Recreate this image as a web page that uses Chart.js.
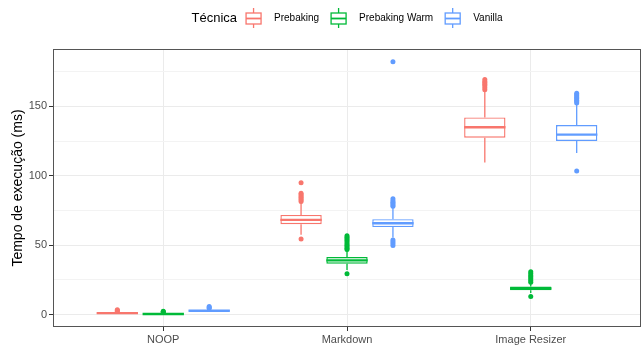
<!DOCTYPE html>
<html>
<head>
<meta charset="utf-8">
<script src="https://cdn.jsdelivr.net/npm/chart.js@4.4.1/dist/chart.umd.min.js"></script>
<style>
  html, body { margin: 0; padding: 0; background: #fff; }
  #caixa { width: 644px; height: 346px; }
</style>
</head>
<body>
<div id="caixa"><canvas id="grafico"></canvas></div>
<script>
const categorias = ['NOOP', 'Markdown', 'Image Resizer'];
const tecnicas = ['Prebaking', 'Prebaking Warm', 'Vanilla'];
const cores = ['#F8766D', '#00BA38', '#619CFF'];

// [limite inferior, Q1, mediana, Q3, limite superior] por categoria
const caixasPrebaking = [[0.5, 0.8, 1.0, 1.2, 1.7], [57.5, 65.1, 68.2, 71.8, 80.5], [109.5, 127.5, 135.0, 142.1, 161.0]];
const caixasPrebakingWarm = [[0.1, 0.3, 0.4, 0.5, 0.8], [32.0, 36.6, 39.0, 41.4, 46.0], [15.5, 17.4, 18.8, 20.1, 22.5]];
const caixasVanilla = [[2.0, 2.4, 2.7, 3.0, 3.8], [55.5, 63.0, 65.8, 68.7, 77.5], [116.5, 125.1, 129.7, 136.6, 152.0]];

// pontos fora dos limites
const outliersPrebaking = [[2.4, 2.9, 3.4], [54.5, 81.5, 82.5, 83.5, 84.5, 85.5, 86.5, 87.5, 95.0], [162.0, 163.5, 165.0, 166.0, 167.0, 168.0, 169.5]];
const outliersPrebakingWarm = [[1.4, 1.9, 2.3], [29.4, 46.8, 47.8, 48.8, 50.0, 51.0, 52.2, 53.5, 54.6, 55.7, 56.7], [12.9, 23.2, 24.5, 25.8, 27.0, 28.2, 29.5, 30.8]];
const outliersVanilla = [[4.5, 5.0, 5.8], [49.8, 51.2, 52.5, 53.8, 78.0, 79.0, 80.0, 81.0, 82.0, 83.5, 182.3], [103.4, 152.5, 153.5, 154.5, 155.5, 156.5, 157.5, 158.5, 159.5]];

const ticksY = [0, 50, 100, 150];
const ticksYMenores = [25, 75, 125, 175];

const todasCaixas = [caixasPrebaking, caixasPrebakingWarm, caixasVanilla];
const todosOutliers = [outliersPrebaking, outliersPrebakingWarm, outliersVanilla];

// limites do eixo y com expansao de 5% (como no ggplot)
var todosValores = [];
for (var t = 0; t < 3; t++) {
    todasCaixas[t].forEach(c => todosValores.push(...c));
    todosOutliers[t].forEach(o => todosValores.push(...o));
}
var minDados = Math.min(...todosValores);
var maxDados = Math.max(...todosValores);
var faixa = maxDados - minDados;

const fonte = '"Liberation Sans", Arial, sans-serif';

const datasets = tecnicas.map((nome, t) => ({
    label: nome,
    data: categorias.map((c, i) => ({ x: i + 1, y: [todasCaixas[t][i][1], todasCaixas[t][i][3]] })),
    caixas: todasCaixas[t],
    outliers: todosOutliers[t],
    backgroundColor: '#FFFFFF',
    borderColor: cores[t],
    borderWidth: 1.4,
    borderSkipped: false,
    categoryPercentage: 0.75,
    barPercentage: 0.9
}));

// bigodes, mediana e outliers
const pluginCaixas = {
    id: 'caixas',
    afterDatasetsDraw(chart) {
        const ctx = chart.ctx;
        const y = chart.scales.y;
        chart.data.datasets.forEach((ds, d) => {
            const meta = chart.getDatasetMeta(d);
            meta.data.forEach((barra, i) => {
                const [minimo, q1, mediana, q3, maximo] = ds.caixas[i];
                const x = barra.x;
                const meia = barra.width / 2;
                ctx.save();
                ctx.strokeStyle = ds.borderColor;
                ctx.lineWidth = 1.3;
                ctx.beginPath();
                ctx.moveTo(x, y.getPixelForValue(q3));
                ctx.lineTo(x, y.getPixelForValue(maximo));
                ctx.moveTo(x, y.getPixelForValue(q1));
                ctx.lineTo(x, y.getPixelForValue(minimo));
                ctx.stroke();
                ctx.lineWidth = 2.4;
                ctx.beginPath();
                ctx.moveTo(x - meia, y.getPixelForValue(mediana));
                ctx.lineTo(x + meia, y.getPixelForValue(mediana));
                ctx.stroke();
                ctx.fillStyle = ds.borderColor;
                ds.outliers[i].forEach(v => {
                    ctx.beginPath();
                    ctx.arc(x, y.getPixelForValue(v), 2.5, 0, Math.PI * 2);
                    ctx.fill();
                });
                ctx.restore();
            });
        });
    }
};

// borda do painel
const pluginBorda = {
    id: 'borda',
    afterDraw(chart) {
        const a = chart.chartArea;
        const ctx = chart.ctx;
        ctx.save();
        ctx.strokeStyle = '#555555';
        ctx.lineWidth = 1;
        ctx.strokeRect(a.left + 0.5, a.top + 0.5, a.right - a.left - 1, a.bottom - a.top - 1);
        ctx.restore();
    }
};

// legenda no estilo ggplot
const pluginLegenda = {
    id: 'legendaGG',
    afterDraw(chart) {
        const ctx = chart.ctx;
        const a = chart.chartArea;
        const yc = 18.5;
        ctx.save();
        ctx.textBaseline = 'middle';
        ctx.font = '13px ' + fonte;
        const larguraTitulo = ctx.measureText('Técnica').width;
        ctx.font = '10px ' + fonte;
        const larguras = tecnicas.map(n => ctx.measureText(n).width);
        const glifo = 15, gapTitulo = 9, gapTexto = 13, gapItem = 12;
        var total = larguraTitulo + gapTitulo;
        larguras.forEach((w, i) => { total += glifo + gapTexto + w + (i < 2 ? gapItem : 0); });
        var x = (a.left + a.right) / 2 - total / 2;
        ctx.fillStyle = '#000';
        ctx.font = '13px ' + fonte;
        ctx.fillText('Técnica', x, yc);
        x += larguraTitulo + gapTitulo;
        ctx.font = '10px ' + fonte;
        tecnicas.forEach((n, i) => {
            ctx.strokeStyle = cores[i];
            ctx.lineWidth = 1.3;
            const cx = x + glifo / 2;
            ctx.beginPath();
            ctx.moveTo(cx, yc - 10.5);
            ctx.lineTo(cx, yc - 5.5);
            ctx.moveTo(cx, yc + 5.5);
            ctx.lineTo(cx, yc + 9.5);
            ctx.stroke();
            ctx.strokeRect(x, yc - 5.5, glifo, 11);
            ctx.beginPath();
            ctx.lineWidth = 1.8;
            ctx.moveTo(x, yc);
            ctx.lineTo(x + glifo, yc);
            ctx.stroke();
            x += glifo + gapTexto;
            ctx.fillStyle = '#000';
            ctx.fillText(n, x, yc);
            x += larguras[i] + gapItem;
        });
        ctx.restore();
    }
};

new Chart(document.getElementById('grafico'), {
    type: 'bar',
    data: { datasets: datasets },
    options: {
        responsive: true,
        maintainAspectRatio: false,
        animation: false,
        devicePixelRatio: 1,
        layout: { padding: { top: 49, right: 3, left: 0, bottom: 0 } },
        plugins: {
            legend: { display: false },
            tooltip: { enabled: false }
        },
        scales: {
            x: {
                type: 'linear',
                min: 0.4,
                max: 3.6,
                offset: false,
                afterBuildTicks: (s) => { s.ticks = categorias.map((c, i) => ({ value: i + 1 })); },
                afterFit: (s) => { s.height = 19; },
                ticks: {
                    callback: (v) => categorias[v - 1],
                    font: { family: fonte, size: 11 },
                    color: '#4D4D4D',
                    padding: 2,
                    maxRotation: 0
                },
                grid: { color: '#EBEBEB', offset: false, tickLength: 4, tickColor: '#333333' },
                border: { display: false }
            },
            y: {
                min: minDados - 0.05 * faixa,
                max: maxDados + 0.05 * faixa,
                afterBuildTicks: (s) => {
                    s.ticks = ticksY.concat(ticksYMenores).sort((p, q) => p - q).map(v => ({ value: v }));
                },
                afterFit: (s) => { s.width = 53; },
                ticks: {
                    callback: (v) => ticksY.includes(v) ? v : '',
                    font: { family: fonte, size: 11 },
                    color: '#4D4D4D',
                    padding: 2
                },
                grid: {
                    color: (c) => ticksY.includes(c.tick.value) ? '#EBEBEB' : '#F3F3F3',
                    tickLength: 4,
                    tickColor: (c) => ticksY.includes(c.tick.value) ? '#333333' : 'rgba(0,0,0,0)'
                },
                border: { display: false },
                title: {
                    display: true,
                    text: 'Tempo de execução (ms)',
                    font: { family: fonte, size: 14 },
                    color: '#000',
                    padding: { top: 9.5, bottom: 0 }
                }
            }
        }
    },
    plugins: [pluginCaixas, pluginBorda, pluginLegenda]
});
</script>
</body>
</html>
